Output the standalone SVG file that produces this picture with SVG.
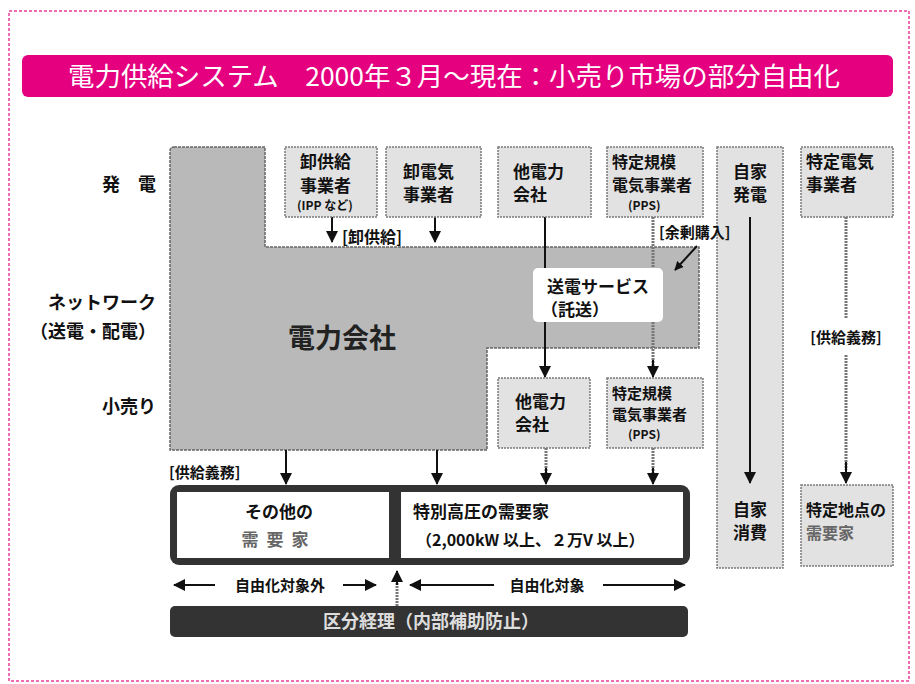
<svg xmlns="http://www.w3.org/2000/svg" width="915" height="684" viewBox="0 0 915 684">
<style>
text{font-family:"Noto Sans CJK JP","Noto Sans",sans-serif;fill:#111;font-size:17px;font-weight:bold}
.lbl{font-size:18px}
.sm{font-size:12px}
.lt{fill:#e2e2e2;stroke:#7a7a7a;stroke-width:1.5;stroke-dasharray:2 1}
.ln{stroke:#111;stroke-width:2;fill:none}
.gl{stroke:#777;stroke-width:3;fill:none;stroke-dasharray:2 1}
.c{text-anchor:middle}
.r{text-anchor:end}
</style>
<defs>
<marker id="ah" viewBox="0 0 12 12" refX="11" refY="6" markerWidth="12" markerHeight="12" markerUnits="userSpaceOnUse" orient="auto-start-reverse">
<path d="M0,0 L12,6 L0,12 Z" fill="#111"/>
</marker>
<marker id="ahs" viewBox="0 0 10 10" refX="9" refY="5" markerWidth="9" markerHeight="9" markerUnits="userSpaceOnUse" orient="auto">
<path d="M0,0 L10,5 L0,10 Z" fill="#111"/>
</marker>
</defs>
<rect x="9" y="11" width="900" height="670" fill="none" stroke="#ee3c9c" stroke-width="1.5" stroke-dasharray="3 2"/>
<g id="title">
<rect x="22" y="55" width="871" height="42" rx="6" fill="#e4007f"/>
<text x="68" y="86" textLength="772" lengthAdjust="spacingAndGlyphs" style="fill:#fff;font-size:26px;font-weight:normal">電力供給システム　2000年３月〜現在：小売り市場の部分自由化</text>
</g>
<g id="row-labels">
<text class="lbl r" x="156" y="191">発　電</text>
<text class="lbl r" x="156" y="309">ネットワーク</text>
<text class="lbl r" x="156" y="338">（送電・配電）</text>
<text class="lbl r" x="156" y="413">小売り</text>
</g>
<g id="denryoku">
<path d="M174,147 H265 V247 H699 V348 H487 V450 H170 V151 Q170,147 174,147 Z" fill="#b9b9b9" stroke="#666" stroke-width="1.5" stroke-dasharray="3 1"/>
<text x="342" y="348" class="c" style="font-size:27px;fill:#222">電力会社</text>
</g>
<g id="connectors">
<line class="ln" x1="332" y1="217" x2="332" y2="242" marker-end="url(#ah)"/>
<line class="ln" x1="435" y1="217" x2="435" y2="242" marker-end="url(#ah)"/>
<line class="ln" x1="545" y1="217" x2="545" y2="377" marker-end="url(#ah)"/>
<line class="gl" x1="653" y1="217" x2="653" y2="370"/>
<line class="ln" x1="653" y1="360" x2="653" y2="377" marker-end="url(#ah)"/>
<line class="ln" x1="697" y1="246" x2="675" y2="270" marker-end="url(#ahs)"/>
<line class="ln" x1="286" y1="450" x2="286" y2="484" marker-end="url(#ah)"/>
<line class="ln" x1="437" y1="450" x2="437" y2="484" marker-end="url(#ah)"/>
<line class="gl" x1="546" y1="448" x2="546" y2="475"/>
<line class="ln" x1="546" y1="468" x2="546" y2="484" marker-end="url(#ah)"/>
<line class="gl" x1="653" y1="448" x2="653" y2="475"/>
<line class="ln" x1="653" y1="468" x2="653" y2="484" marker-end="url(#ah)"/>
<line class="gl" x1="846" y1="217" x2="846" y2="318"/>
<line class="gl" x1="846" y1="355" x2="846" y2="470"/>
<line class="ln" x1="846" y1="462" x2="846" y2="483" marker-end="url(#ah)"/>
<line class="ln" x1="215" y1="585" x2="174" y2="585" marker-end="url(#ah)"/>
<line class="ln" x1="343" y1="585" x2="376" y2="585" marker-end="url(#ah)"/>
<line class="ln" x1="494" y1="585" x2="410" y2="585" marker-end="url(#ah)"/>
<line class="ln" x1="603" y1="585" x2="685" y2="585" marker-end="url(#ah)"/>
<line class="gl" x1="397" y1="606" x2="397" y2="580"/>
<line class="ln" x1="397" y1="585" x2="397" y2="571" marker-end="url(#ah)"/>
</g>
<g id="oroshi-kyokyu">
<rect class="lt" x="285" y="147" width="92" height="70"/>
<text x="300" y="168">卸供給</text>
<text x="300" y="192">事業者</text>
<text x="297" y="210" class="sm">(IPP など)</text>
</g>
<g id="oroshi-denki">
<rect class="lt" x="386" y="147" width="95" height="70"/>
<text x="403" y="178">卸電気</text>
<text x="403" y="201">事業者</text>
</g>
<g id="ta-denryoku-top">
<rect class="lt" x="498" y="147" width="93" height="70"/>
<text x="513" y="178">他電力</text>
<text x="513" y="201">会社</text>
</g>
<g id="pps-top">
<rect class="lt" x="607" y="147" width="96" height="70"/>
<text x="612" y="168" style="font-size:16px">特定規模</text>
<text x="612" y="191" style="font-size:16px">電気事業者</text>
<text x="628" y="210" class="sm">(PPS)</text>
</g>
<g id="jika-hatsuden">
<rect class="lt" x="717" y="147" width="66" height="421"/>
<text x="750" y="178" class="c">自家</text>
<text x="750" y="201" class="c">発電</text>
<line class="ln" x1="750" y1="217" x2="750" y2="483" marker-end="url(#ah)"/>
<text x="750" y="516" class="c">自家</text>
<text x="750" y="539" class="c">消費</text>
</g>
<g id="tokutei-denki">
<rect class="lt" x="801" y="147" width="92" height="70"/>
<text x="806" y="168">特定電気</text>
<text x="806" y="191">事業者</text>
</g>
<g id="tokutei-chiten">
<rect class="lt" x="801" y="485" width="92" height="81"/>
<text x="806" y="516" style="font-size:16px">特定地点の</text>
<text x="806" y="539" style="font-size:16px;fill:#666">需要家</text>
</g>
<g id="soden-service">
<rect x="533" y="268" width="130" height="54" rx="5" fill="#fff"/>
<text x="598" y="293" class="c">送電サービス</text>
<text x="575" y="316" class="c">（託送）</text>
</g>
<g id="ta-denryoku-low">
<rect class="lt" x="498" y="378" width="92" height="70"/>
<text x="515" y="408">他電力</text>
<text x="515" y="431">会社</text>
</g>
<g id="pps-low">
<rect class="lt" x="607" y="378" width="96" height="70"/>
<text x="612" y="399" style="font-size:15px">特定規模</text>
<text x="612" y="420" style="font-size:15px">電気事業者</text>
<text x="628" y="439" class="sm">(PPS)</text>
</g>
<g id="juyoka">
<rect x="170" y="485" width="520" height="80" rx="9" fill="#333"/>
<rect x="177" y="492" width="212" height="66" fill="#fff"/>
<rect x="401" y="492" width="282" height="66" fill="#fff"/>
<text x="279" y="518" class="c">その他の</text>
<text x="279" y="546" class="c" style="fill:#666" letter-spacing="8">需要家</text>
<text x="413" y="518">特別高圧の需要家</text>
<text x="416" y="546" style="font-size:16px">（2,000kW 以上、２万V 以上）</text>
</g>
<g id="liberalization-labels">
<text x="280" y="591" class="c" style="font-size:15px">自由化対象外</text>
<text x="547" y="591" class="c" style="font-size:15px">自由化対象</text>
</g>
<g id="kubun-keiri">
<rect x="170" y="606" width="518" height="31" rx="5" fill="#333"/>
<text x="431" y="628" class="c" style="fill:#ddd;font-size:18px">区分経理（内部補助防止）</text>
</g>
<g id="edge-labels">
<text x="342" y="243" style="font-size:16px">[卸供給]</text>
<text x="659" y="238" style="font-size:15px">[余剰購入]</text>
<text x="169" y="478" style="font-size:15px">[供給義務]</text>
<text x="846" y="343" class="c" style="font-size:15px">[供給義務]</text>
</g>
</svg>
